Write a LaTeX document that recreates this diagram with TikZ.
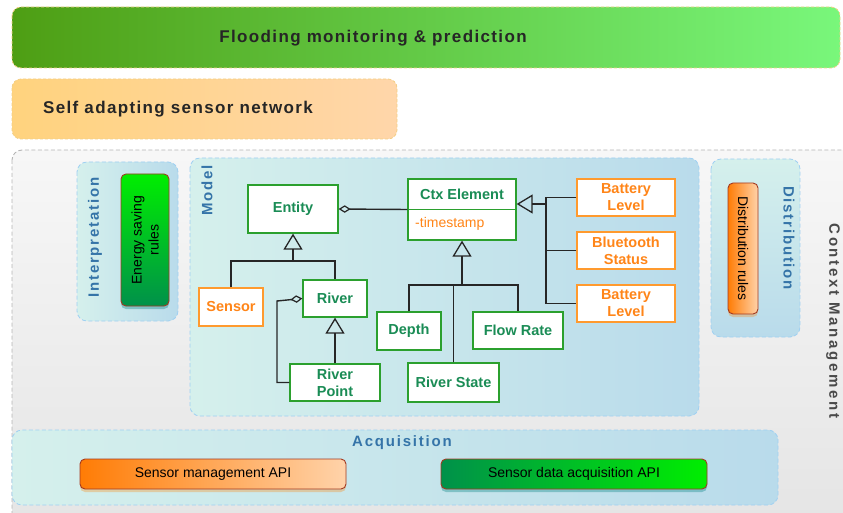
\documentclass[tikz,border=0pt]{standalone}
\usepackage{fontspec}
\setmainfont{Liberation Sans}
\newfontfamily\spA[LetterSpace=8]{Liberation Sans}
\newfontfamily\spB[LetterSpace=12]{Liberation Sans}
\newfontfamily\spC[LetterSpace=18]{Liberation Sans}
\usetikzlibrary{arrows.meta,shadows}
\definecolor{gA}{HTML}{4E9E14}
\definecolor{gB}{HTML}{79F77B}
\definecolor{oA}{HTML}{FFD37E}
\definecolor{oB}{HTML}{FFD6AA}
\definecolor{barborder}{HTML}{F3CF85}
\definecolor{ctxtop}{HTML}{F7F7F7}
\definecolor{ctxbot}{HTML}{E4E4E4}
\definecolor{ctxborder}{HTML}{B4B4B4}
\definecolor{tealA}{HTML}{D5F0EC}
\definecolor{blueA}{HTML}{B9DBEB}
\definecolor{bborder}{HTML}{9FD0F2}
\definecolor{lblue}{HTML}{3574A8}
\definecolor{umlgreen}{HTML}{2BA02E}
\definecolor{umltext}{HTML}{1A8C55}
\definecolor{umlorange}{HTML}{FF9A2E}
\definecolor{umlotext}{HTML}{FF8518}
\definecolor{redborder}{HTML}{A33A22}
\definecolor{dkorange}{HTML}{FF7C05}
\definecolor{ltorange}{HTML}{FFD3AA}
\definecolor{dkgreen}{HTML}{00914A}
\definecolor{brgreen}{HTML}{00EE00}
\definecolor{titletext}{HTML}{262626}
\definecolor{cmtext}{HTML}{4A4A4A}
\begin{document}
\begin{tikzpicture}[x=1pt,y=-1pt,
  area/.style={draw=bborder, dash pattern=on 4pt off 2.5pt, line width=0.8pt, rounded corners=10pt},
  arealbl/.style={text=lblue, font=\spB\bfseries\fontsize{15}{18}\selectfont, inner sep=0},
  umlg/.style={draw=umlgreen, fill=white, line width=1.3pt, text=umltext, font=\bfseries\fontsize{14.5}{17}\selectfont, align=center, inner sep=0},
  umlo/.style={draw=umlorange, fill=white, line width=1.3pt, text=umlotext, font=\bfseries\fontsize{14.5}{17}\selectfont, align=center, inner sep=0},
  conn/.style={draw=black!85, line width=1.4pt},
  inh/.style={conn, -{Triangle[open, width=19pt, length=16pt, line width=1.3pt]}},
  agg/.style={conn, -{Diamond[open, width=7.5pt, length=12pt, line width=1.2pt]}},
  comp/.style={draw=redborder, line width=0.9pt, rounded corners=5pt, inner sep=0, text=black, font=\fontsize{14}{17}\selectfont, align=center},
]
\useasboundingbox (0,0) rectangle (843,513);
\clip (0,0) rectangle (843,513);

% Context management region
\shade[top color=ctxtop, bottom color=ctxbot, draw=ctxborder, dash pattern=on 4pt off 2.5pt, line width=0.9pt, rounded corners=10pt] (12,150) rectangle (890,540);
\node[rotate=-90, text=cmtext, font=\spC\bfseries\fontsize{15}{18}\selectfont, inner sep=0] (cmlbl) at (833,321) {Context Management};

% top bars
\shade[left color=gA, right color=gB, draw=barborder, dash pattern=on 3pt off 2pt, line width=0.8pt, rounded corners=9pt] (12,7) rectangle (840,68);
\node[text=titletext, font=\spA\bfseries\fontsize{17}{20}\selectfont, inner sep=0] (flood) at (373,38) {Flooding monitoring \& prediction};
\shade[left color=oA, right color=oB, draw=barborder, dash pattern=on 3pt off 2pt, line width=0.8pt, rounded corners=9pt] (12,79) rectangle (397,139);
\node[text=titletext, font=\spA\bfseries\fontsize{17}{20}\selectfont, inner sep=0] (self) at (178,109) {Self adapting sensor network};

% Interpretation
\shade[area, left color=tealA, right color=blueA] (77,162) rectangle (178,321);
\node[arealbl, rotate=90] (interp) at (95,237.5) {Interpretation};
\node[comp, top color=brgreen, bottom color=dkgreen, minimum width=48pt, minimum height=132pt,
  drop shadow={shadow xshift=0pt, shadow yshift=-3pt, opacity=0.35, fill=teal}] (energy) at (145,240) {};
\node[rotate=90, font=\fontsize{14}{17}\selectfont, align=center, inner sep=0] (energytxt) at (energy.center) {Energy saving\\rules};

% Model
\shade[area, left color=tealA, right color=blueA] (190,158) rectangle (699,416);
\node[arealbl, rotate=90] (model) at (207,190.5) {Model};

% Distribution
\shade[area, top color=tealA, bottom color=blueA] (711,159) rectangle (800,337);
\node[arealbl, rotate=-90] (distr) at (789,238) {Distribution};
\node[comp, left color=dkorange, right color=ltorange, minimum width=30pt, minimum height=131pt,
  drop shadow={shadow xshift=0pt, shadow yshift=-3pt, opacity=0.3, fill=orange}] (drules) at (743,248.5) {};
\node[rotate=-90, font=\fontsize{14}{17}\selectfont, inner sep=0] (drulestxt) at (drules.center) {Distribution rules};

% Acquisition
\shade[area, left color=tealA, right color=blueA] (12,430) rectangle (778,505);
\node[arealbl] (acq) at (402,443) {Acquisition};
\node[comp, left color=dkorange, right color=ltorange, minimum width=266pt, minimum height=30pt,
  drop shadow={shadow xshift=0pt, shadow yshift=-3pt, opacity=0.3, fill=orange}] (smapi) at (213,474) {Sensor management API};
\node[comp, left color=dkgreen, right color=brgreen, minimum width=266pt, minimum height=30pt,
  drop shadow={shadow xshift=0pt, shadow yshift=-3pt, opacity=0.35, fill=teal}] (sdapi) at (574,474) {Sensor data acquisition API};

% UML nodes
\node[umlg, minimum width=90pt, minimum height=48pt] (entity) at (293,209) {Entity};
\node[umlg, minimum width=108pt, minimum height=61pt] (ctx) at (462,209.5) {};
\draw[draw=umlgreen, line width=1.3pt] (ctx.west) -- (ctx.east);
\node[text=umltext, font=\bfseries\fontsize{14.5}{17}\selectfont, inner sep=0] (ctxname) at (462,194) {Ctx Element};
\node[text=umlotext, font=\fontsize{14}{17}\selectfont, inner sep=0, anchor=west] (ts) at (415,224) {-timestamp};
\node[umlo, minimum width=98pt, minimum height=37pt] (bat1) at (626,197.5) {Battery\\Level};
\node[umlo, minimum width=98pt, minimum height=37pt] (bt) at (626,250.5) {Bluetooth\\Status};
\node[umlo, minimum width=98pt, minimum height=37pt] (bat2) at (626,303.5) {Battery\\Level};
\node[umlo, minimum width=64pt, minimum height=38pt] (sensor) at (231,307) {Sensor};
\node[umlg, minimum width=64pt, minimum height=37pt] (river) at (335,298.5) {River};
\node[umlg, minimum width=90pt, minimum height=37pt] (rp) at (335,382.5) {River\\Point};
\node[umlg, minimum width=64pt, minimum height=38pt] (depth) at (409,331) {Depth};
\node[umlg, minimum width=90pt, minimum height=37pt] (flow) at (518,330.5) {Flow Rate};
\node[umlg, minimum width=91pt, minimum height=39pt] (rstate) at (453.5,382.5) {River State};

% connectors
\coordinate (entbus) at (293,261);
\coordinate (ctxbus) at (462,285);
\coordinate (rbus) at (546,204);
\coordinate (rpk) at (277,301);

\draw[agg] (ctx.west) -- (entity.east);
\draw[inh] (entbus) -- (entity.south);
\draw[conn] (sensor.north) |- (entbus) -| (river.north);
\draw[inh] (rp.north) -- (river.south);
\draw[agg] (rp.west) -| (rpk) -- (river.west);
\draw[inh] (ctxbus) -- (ctx.south);
\draw[conn] (depth.north) |- (ctxbus) -| (flow.north);
\draw[conn] (rstate.north) -- (rstate.north |- ctxbus);
\draw[inh] (rbus) -- (rbus -| ctx.east);
\draw[conn] (bat1.west) -| (rbus |- bat2.west) -- (bat2.west);
\draw[conn] (bt.west) -- (bt.west -| rbus);
\end{tikzpicture}
\end{document}
